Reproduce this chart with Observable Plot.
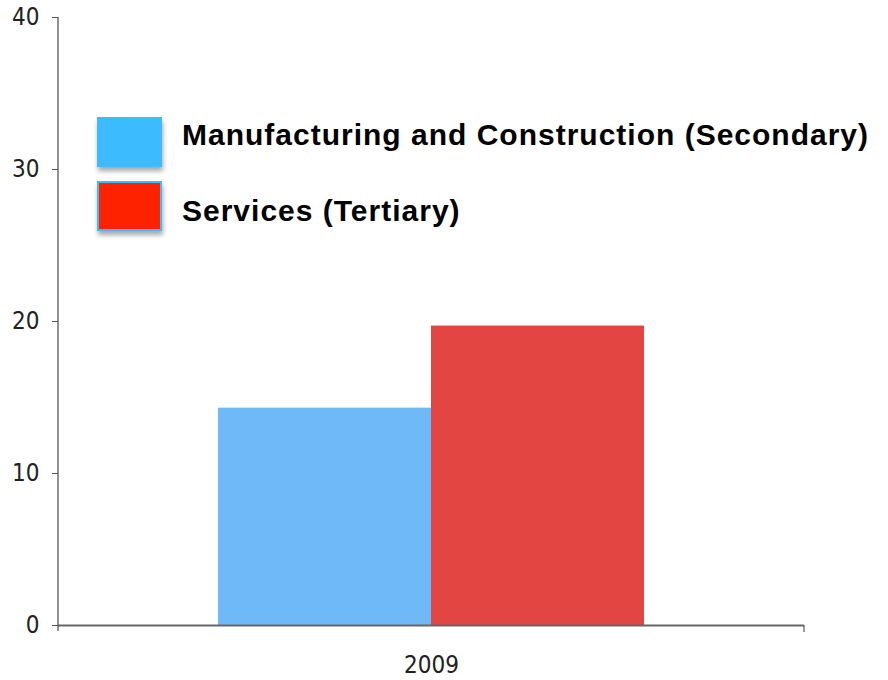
<!DOCTYPE html>
<html>
<head>
<meta charset="utf-8">
<script src="https://cdn.jsdelivr.net/npm/d3@7"></script>
<script src="https://cdn.jsdelivr.net/npm/@observablehq/plot@0.6"></script>
<style>
  html, body { margin: 0; padding: 0; background: #fff; }
  #wrap { position: relative; width: 888px; height: 680px; }
  svg g[aria-label="y-axis tick label"] text, svg g[aria-label="fx-axis tick label"] text { font-stretch: condensed; }
</style>
</head>
<body>
<div id="wrap"></div>
<script>
const years = ["2009"];
const series = ["Manufacturing and Construction (Secondary)", "Services (Tertiary)"];
const values = [14.3, 19.7];
const barColors = ["#70B9F9", "#E34543"];
const swatchColors = ["#3DBBFF", "#FF2200"];
const yTicks = [0, 10, 20, 30, 40];

const data = series.map((s, i) => ({year: years[0], series: s, value: values[i]}));

const tickFont = "'DejaVu Sans Condensed', 'Liberation Sans Narrow', sans-serif";

const chart = Plot.plot({
  width: 888,
  height: 680,
  marginLeft: 58,
  marginRight: 84,
  marginTop: 17,
  marginBottom: 55,
  style: {fontFamily: tickFont, fontSize: "24px", color: "#222", background: "#fff"},
  fx: {domain: years, padding: 0, label: null},
  x: {domain: series, paddingInner: 0, paddingOuter: 0.751, axis: null},
  y: {domain: [0, 40], axis: null},
  color: {domain: series, range: barColors},
  marks: [
    Plot.barY(data, {fx: "year", x: "series", y: "value", fill: "series"}),
    Plot.axisY({ticks: yTicks, tickSize: 6, tickPadding: 13, stroke: "#555", fontSize: 24, label: null, fontFamily: tickFont}),
    Plot.axisFx({anchor: "bottom", tickSize: 0, tickPadding: 30, fontSize: 24, label: null, fontFamily: tickFont}),
    Plot.ruleY([0], {stroke: "#666", strokeWidth: 2})
  ]
});
document.getElementById("wrap").appendChild(chart);

const svg = d3.select(chart);
// vertical axis line and right end tick of the x axis
svg.append("line").attr("x1", 58).attr("x2", 58).attr("y1", 17).attr("y2", 631).attr("stroke", "#555").attr("stroke-width", 1.3);
svg.append("line").attr("x1", 804).attr("x2", 804).attr("y1", 625).attr("y2", 632).attr("stroke", "#666").attr("stroke-width", 1.3);

// legend
const defs = svg.append("defs");
const f = defs.append("filter").attr("id", "shadow").attr("x", "-20%").attr("y", "-20%").attr("width", "150%").attr("height", "160%");
f.append("feDropShadow").attr("dx", 1).attr("dy", 4).attr("stdDeviation", 2.5).attr("flood-color", "#000").attr("flood-opacity", 0.35);

const legendTop = [118, 182];
const legendBase = [145, 221];
series.forEach((s, i) => {
  svg.append("rect")
    .attr("x", 98).attr("y", legendTop[i]).attr("width", 63).attr("height", 48)
    .attr("fill", swatchColors[i]).attr("stroke", "#3DBBFF").attr("stroke-width", 2)
    .attr("filter", "url(#shadow)");
  svg.append("text")
    .attr("x", 182).attr("y", legendBase[i])
    .attr("text-anchor", "start")
    .attr("font-family", "'Liberation Sans', Arial, sans-serif")
    .attr("font-weight", "bold").attr("font-size", 30)
    .attr("letter-spacing", "1px")
    .attr("fill", "#000")
    .text(s);
});
</script>
</body>
</html>
